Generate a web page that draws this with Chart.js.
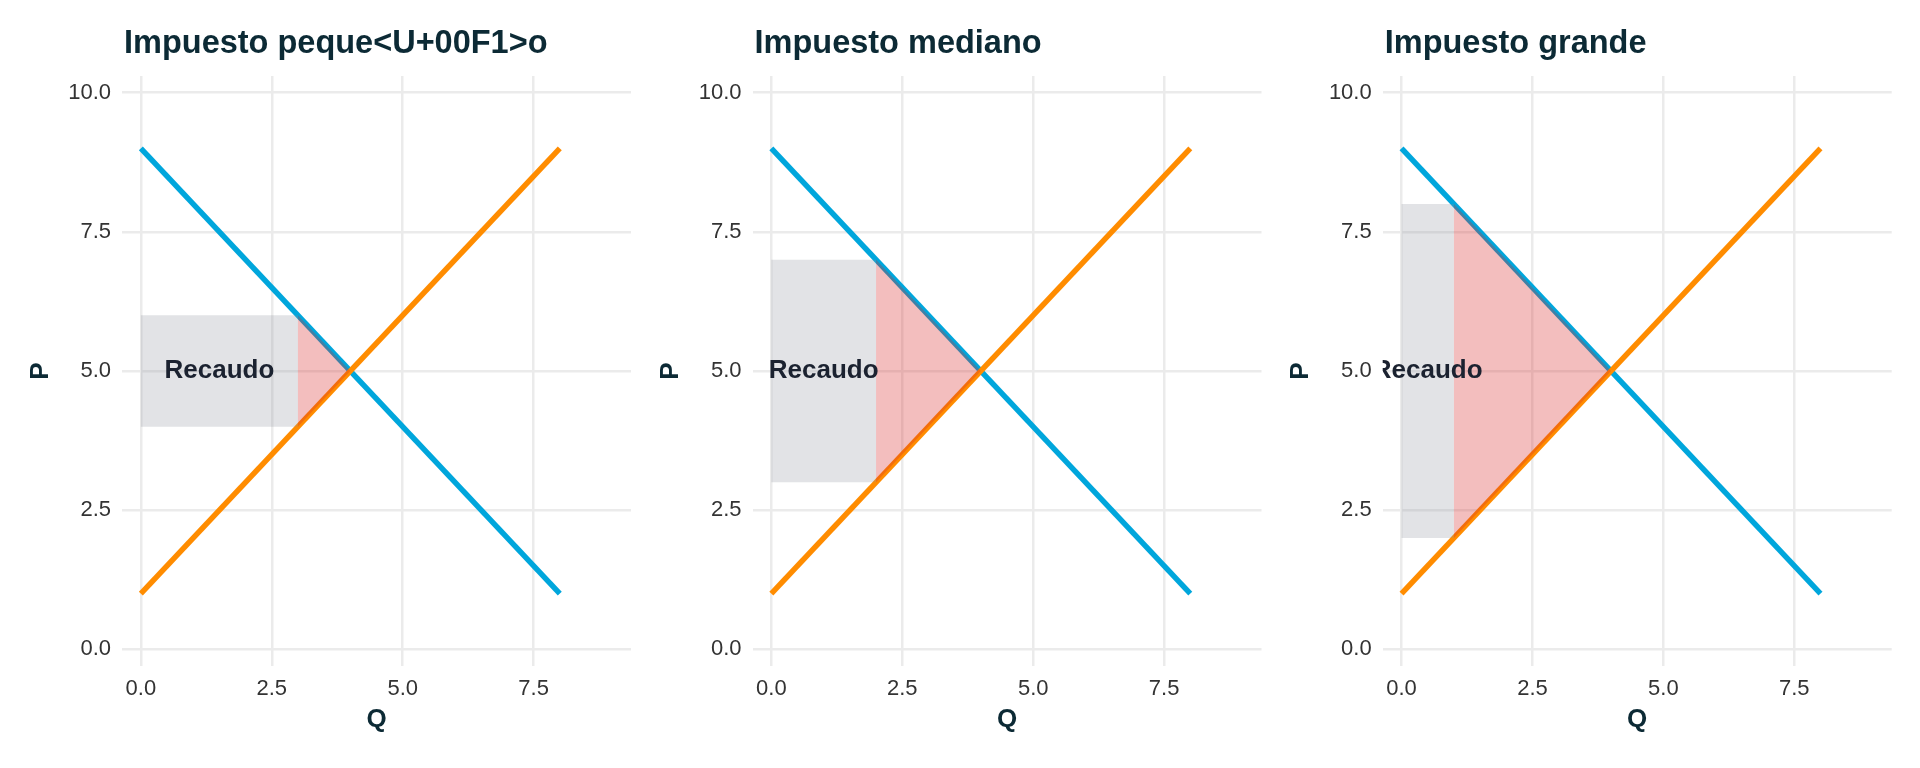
<!DOCTYPE html>
<html>
<head>
<meta charset="utf-8">
<script src="https://cdn.jsdelivr.net/npm/chart.js@4.4.1/dist/chart.umd.min.js"></script>
<style>
  html, body { margin: 0; padding: 0; background: #fff; }
  #wrap { position: relative; width: 1920px; height: 768px; }
  canvas { position: absolute; top: 0; }
</style>
</head>
<body>
<div id="wrap">
  <canvas id="c0" width="640" height="768" style="left:0px"></canvas>
  <canvas id="c1" width="640" height="768" style="left:640px"></canvas>
  <canvas id="c2" width="640" height="768" style="left:1280px"></canvas>
</div>
<script>
// datos del gráfico
const panelTitles = ['Impuesto peque<U+00F1>o', 'Impuesto mediano', 'Impuesto grande'];
const demandQ = [0, 8];
const demandP = [9, 1];
const supplyQ = [0, 8];
const supplyP = [1, 9];
const eqQ = 4;
const eqP = 5;
const taxQ = [3, 2, 1];
const buyerP = [6, 7, 8];
const sellerP = [4, 3, 2];
const xTicks = [0, 2.5, 5, 7.5];
const yTicks = [0, 2.5, 5, 7.5, 10];
const areaLabel = 'Recaudo';

const darkText = '#0c2a35';
const fontFamily = '"Liberation Sans", Arial, sans-serif';
Chart.defaults.font.family = fontFamily;

// posición de cada panel dentro de su canvas
const panelBox = [
    {axisW: 122, padRight: 9, pCenter: 41},
    {axisW: 112.5, padRight: 18.5, pCenter: 30.7},
    {axisW: 102.7, padRight: 28.3, pCenter: 20.7}
];

const titlePlugin = {
    id: 'panelTitle',
    afterDraw(chart, args, opts) {
        const ctx = chart.ctx;
        ctx.save();
        ctx.font = 'bold 32.5px ' + fontFamily;
        ctx.fillStyle = darkText;
        ctx.textBaseline = 'alphabetic';
        ctx.textAlign = 'left';
        ctx.fillText(opts.text, chart.chartArea.left + 2, 53);
        ctx.restore();
    }
};

const labelPlugin = {
    id: 'areaText',
    afterDatasetsDraw(chart, args, opts) {
        const ctx = chart.ctx;
        const area = chart.chartArea;
        const px = chart.scales.x.getPixelForValue(opts.x);
        const py = chart.scales.y.getPixelForValue(opts.y);
        ctx.save();
        ctx.beginPath();
        ctx.rect(area.left, area.top, area.right - area.left, area.bottom - area.top);
        ctx.clip();
        ctx.font = 'bold 26px ' + fontFamily;
        ctx.fillStyle = '#1b2230';
        ctx.textAlign = 'center';
        ctx.textBaseline = 'middle';
        ctx.fillText(opts.text, px, py);
        ctx.restore();
    }
};

function toPoints(xs, ys) {
    return xs.map((x, i) => ({x: x, y: ys[i]}));
}

function drawPanel(i) {
    const box = panelBox[i];
    const ctx = document.getElementById('c' + i);
    const triangle = [
        {x: taxQ[i], y: buyerP[i]},
        {x: eqQ, y: eqP},
        {x: taxQ[i], y: sellerP[i]}
    ];
    const rect = [
        {x: 0, y: sellerP[i]},
        {x: 0, y: buyerP[i]},
        {x: taxQ[i], y: buyerP[i]},
        {x: taxQ[i], y: sellerP[i]}
    ];

    new Chart(ctx, {
        type: 'scatter',
        data: {
            datasets: [
                {
                    data: triangle, showLine: true, fill: 'shape',
                    backgroundColor: 'rgba(214, 40, 40, 0.3)', borderColor: 'rgba(0,0,0,0)',
                    borderWidth: 0, pointRadius: 0, order: 0
                },
                {
                    data: rect, showLine: true, fill: 'shape',
                    backgroundColor: 'rgba(140, 145, 155, 0.25)', borderColor: 'rgba(0,0,0,0)',
                    borderWidth: 0, pointRadius: 0, order: 0
                },
                {
                    data: toPoints(supplyQ, supplyP), showLine: true, fill: false,
                    borderColor: '#ff8c00', borderWidth: 5.5, borderCapStyle: 'butt',
                    pointRadius: 0, order: 1
                },
                {
                    data: toPoints(demandQ, demandP), showLine: true, fill: false,
                    borderColor: '#00a6dc', borderWidth: 5.5, borderCapStyle: 'butt',
                    pointRadius: 0, order: 2
                }
            ]
        },
        options: {
            responsive: false,
            animation: false,
            layout: {padding: {top: 76, left: 0, right: box.padRight, bottom: 0}},
            plugins: {
                legend: {display: false},
                tooltip: {enabled: false},
                panelTitle: {text: panelTitles[i]},
                areaText: {text: areaLabel, x: taxQ[i] / 2, y: eqP}
            },
            scales: {
                x: {
                    type: 'linear', min: -0.36, max: 9.36,
                    grid: {color: '#ebebeb', lineWidth: 2.5, drawTicks: false},
                    border: {display: false},
                    afterBuildTicks: s => { s.ticks = xTicks.map(v => ({value: v})); },
                    ticks: {
                        padding: 10, color: '#333333', font: {size: 22},
                        maxRotation: 0, autoSkip: false,
                        callback: v => Number(v).toFixed(1)
                    },
                    title: {
                        display: true, text: 'Q', color: darkText,
                        font: {size: 26, weight: 'bold'}, padding: {top: 0, bottom: 33}
                    },
                    afterFit: s => { s.height = 102; }
                },
                y: {
                    type: 'linear', min: -0.3, max: 10.3,
                    grid: {color: '#ebebeb', lineWidth: 2.5, drawTicks: false},
                    border: {display: false},
                    afterBuildTicks: s => { s.ticks = yTicks.map(v => ({value: v})); },
                    ticks: {
                        padding: 11, color: '#333333', font: {size: 22},
                        autoSkip: false,
                        callback: v => Number(v).toFixed(1)
                    },
                    title: {
                        display: true, text: 'P', color: darkText,
                        font: {size: 26, weight: 'bold'},
                        padding: {top: box.pCenter - 15.6, bottom: 0}
                    },
                    afterFit: s => { s.width = box.axisW; }
                }
            }
        },
        plugins: [titlePlugin, labelPlugin]
    });
}

for (let i = 0; i < panelTitles.length; i++) {
    drawPanel(i);
}
</script>
</body>
</html>
